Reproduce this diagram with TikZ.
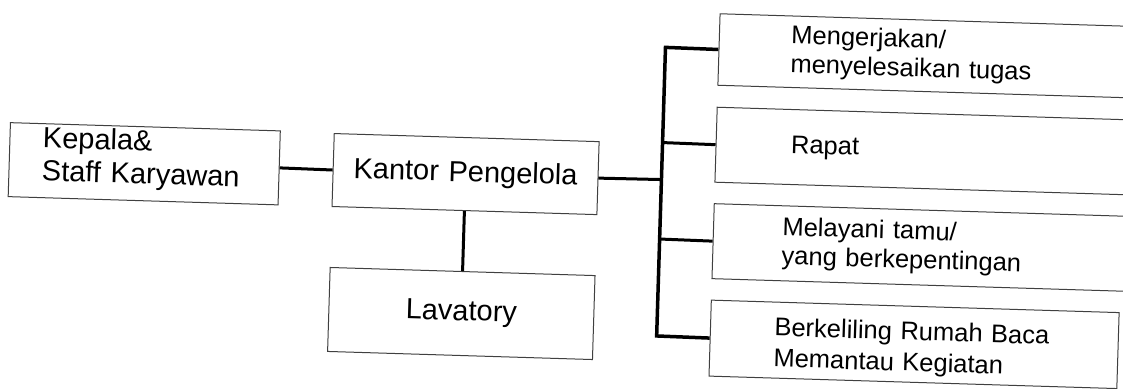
\documentclass[tikz,border=0pt]{standalone}
\usepackage{fontspec}
\setmainfont{Liberation Sans}
\begin{document}
\begin{tikzpicture}[x=1pt,y=-1pt,
  box/.style={draw=black!75, line width=1pt, inner sep=0pt, anchor=north west},
  bigtxt/.style={font=\fontsize{29}{33}\selectfont},
  smalltxt/.style={font=\fontsize{25.5}{29}\selectfont},
  link/.style={line width=3pt, line join=miter},
  buslink/.style={line width=3.5pt, line join=miter}]
\useasboundingbox (0,0) rectangle (1123,388);
\clip (0,0) rectangle (1123,388);
\fill[white] (0,0) rectangle (1123,388);
\begin{scope}[rotate around={-1.75:(561,194)}, transform shape]
  % left part
  \node[box, bigtxt, align=left, text width=270pt, minimum height=74pt] (kepala) at (8,139)
    {\hspace*{33pt}Kepala\&\\\hspace*{33pt}Staff Karyawan\rule[-14pt]{0pt}{14pt}};
  \node[box, bigtxt, align=center, text width=265pt, minimum height=73pt] (kantor) at (332,140)
    {Kantor Pengelola};
  \node[box, bigtxt, align=center, text width=265pt, minimum height=84pt] (lav) at (332,274)
    {Lavatory};
  % right boxes
  \node[box, smalltxt, align=left, text width=470pt, minimum height=71.5pt] (b1) at (714,8.5)
    {\hspace*{72pt}Mengerjakan/\\\hspace*{72pt}menyelesaikan tugas};
  \node[box, smalltxt, align=left, text width=470pt, minimum height=75pt] (b2) at (714,102)
    {\hspace*{75pt}Rapat};
  \node[box, smalltxt, align=left, text width=470pt, minimum height=75pt] (b3) at (714,198.5)
    {\hspace*{69pt}Melayani tamu/\\\hspace*{69pt}yang berkepentingan};
  \node[box, font=\fontsize{25.5}{31}\selectfont, align=left, text width=408pt, minimum height=76pt] (b4) at (714,295)
    {\hspace*{64pt}\rule{0pt}{28pt}Berkeliling Rumah Baca\\\hspace*{64pt}Memantau Kegiatan};
  % bus junctions
  \coordinate (j1) at (661,44.25);
  \coordinate (j2) at (661,139.5);
  \coordinate (j0) at (661,176.5);
  \coordinate (j3) at (661,236);
  \coordinate (j4) at (661,333);
  % connectors
  \draw[link] (kepala.east) -- (kantor.west);
  \draw[link] (kantor.south) -- (lav.north);
  \draw[link] (kantor.east) -- (j0);
  \draw[buslink] (b1.west) -- (j1) -- (j4) -- (b4.west);
  \draw[link] (j2) -- (b2.west);
  \draw[link] (j3) -- (b3.west);
\end{scope}
\end{tikzpicture}
\end{document}
